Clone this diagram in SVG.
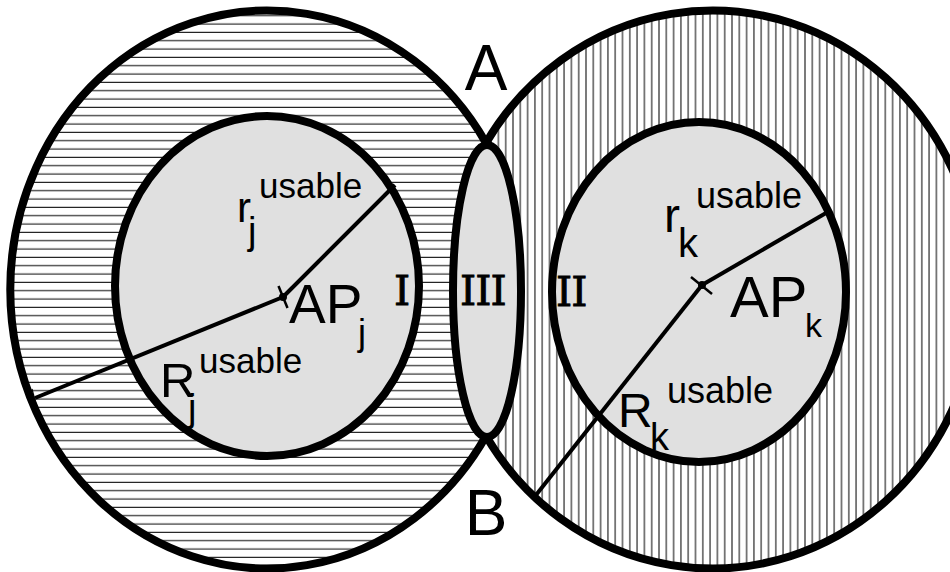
<svg xmlns="http://www.w3.org/2000/svg" width="950" height="572" viewBox="0 0 950 572">
  <defs>
    <pattern id="hatch-h" patternUnits="userSpaceOnUse" x="0" y="20" width="20" height="8.333">
      <rect width="20" height="8.333" fill="#fff"/>
      <line x1="0" y1="4" x2="20" y2="4" stroke="#000" stroke-width="1"/>
    </pattern>
    <pattern id="hatch-v" patternUnits="userSpaceOnUse" x="648.05" y="0" width="7.3" height="20">
      <rect width="7.3" height="20" fill="#fff"/>
      <line x1="3.65" y1="0" x2="3.65" y2="20" stroke="#000" stroke-width="1"/>
    </pattern>
  </defs>
  <style>
    .outer { stroke: #000; stroke-width: 8; }
    .inner { fill: #e0e0e0; stroke: #000; stroke-width: 8; }
    .radius { stroke: #000; stroke-width: 4; fill: none; stroke-linecap: butt; }
    .tick { stroke: #000; stroke-width: 2.5; }
    .thin { stroke: #000; stroke-width: 1.2; }
    text { font-family: "Liberation Sans", Arial, sans-serif; fill: #000; }
    .roman { font-family: "DejaVu Serif", "Liberation Serif", serif; font-size: 41px; letter-spacing: -1px; stroke: #000; stroke-width: 0.9; }
  </style>

  <g id="cell-j">
    <path class="outer" fill="url(#hatch-h)" d="M 486 436 A 257 279 0 1 1 486 143 A 500 500 0 0 1 486 436 Z"/>
  </g>
  <g id="cell-k">
    <path class="outer" fill="url(#hatch-v)" d="M 486 143 A 266 279 0 1 1 486 436 A 500 500 0 0 1 486 143 Z"/>
  </g>
  <g id="usable-j">
    <ellipse class="inner" cx="267" cy="286" rx="152" ry="170"/>
  </g>
  <g id="usable-k">
    <ellipse class="inner" cx="699" cy="292" rx="147" ry="170"/>
  </g>
  <g id="overlap-III">
    <ellipse class="inner" cx="487" cy="291" rx="34" ry="146"/>
  </g>

  <g id="connectors">
    <line class="radius" x1="283" y1="297" x2="395" y2="185"/>
    <line class="radius" x1="283" y1="297" x2="35" y2="398"/>
    <line class="tick" x1="278.5" y1="286" x2="287.5" y2="308"/>
    <line class="thin" x1="32" y1="389" x2="37" y2="408"/>
    <circle cx="283" cy="297" r="4" fill="#000"/>
    <line class="radius" x1="702" y1="285" x2="826" y2="213"/>
    <line class="radius" x1="702" y1="285" x2="536" y2="495"/>
    <line class="tick" x1="691" y1="277" x2="712" y2="294"/>
    <circle cx="702" cy="285" r="4" fill="#000"/>
  </g>

  <g id="label-A"><text x="486" y="90" font-size="64" text-anchor="middle">A</text></g>
  <g id="label-B"><text x="486" y="535" font-size="64" text-anchor="middle">B</text></g>
  <g id="label-I"><text class="roman" x="394" y="305">I</text></g>
  <g id="label-III"><text class="roman" x="460" y="305">III</text></g>
  <g id="label-II"><text class="roman" x="556" y="306">II</text></g>

  <g id="label-rj">
    <text x="237" y="222" font-size="42">r</text>
    <text x="248" y="244" font-size="38">j</text>
    <text x="259" y="198" font-size="35">usable</text>
  </g>
  <g id="label-APj">
    <text x="289" y="323" font-size="55">AP</text>
    <text x="358" y="345" font-size="36">j</text>
  </g>
  <g id="label-Rj">
    <text x="160" y="397" font-size="49">R</text>
    <text x="188" y="421" font-size="38">j</text>
    <text x="199" y="373" font-size="35">usable</text>
  </g>
  <g id="label-rk">
    <text x="664" y="232" font-size="48">r</text>
    <text x="678" y="257" font-size="40">k</text>
    <text x="696" y="208" font-size="36">usable</text>
  </g>
  <g id="label-APk">
    <text x="730" y="317" font-size="58">AP</text>
    <text x="805" y="337" font-size="34">k</text>
  </g>
  <g id="label-Rk">
    <text x="618" y="427" font-size="48">R</text>
    <text x="650" y="450" font-size="38">k</text>
    <text x="667" y="403" font-size="36">usable</text>
  </g>
</svg>
